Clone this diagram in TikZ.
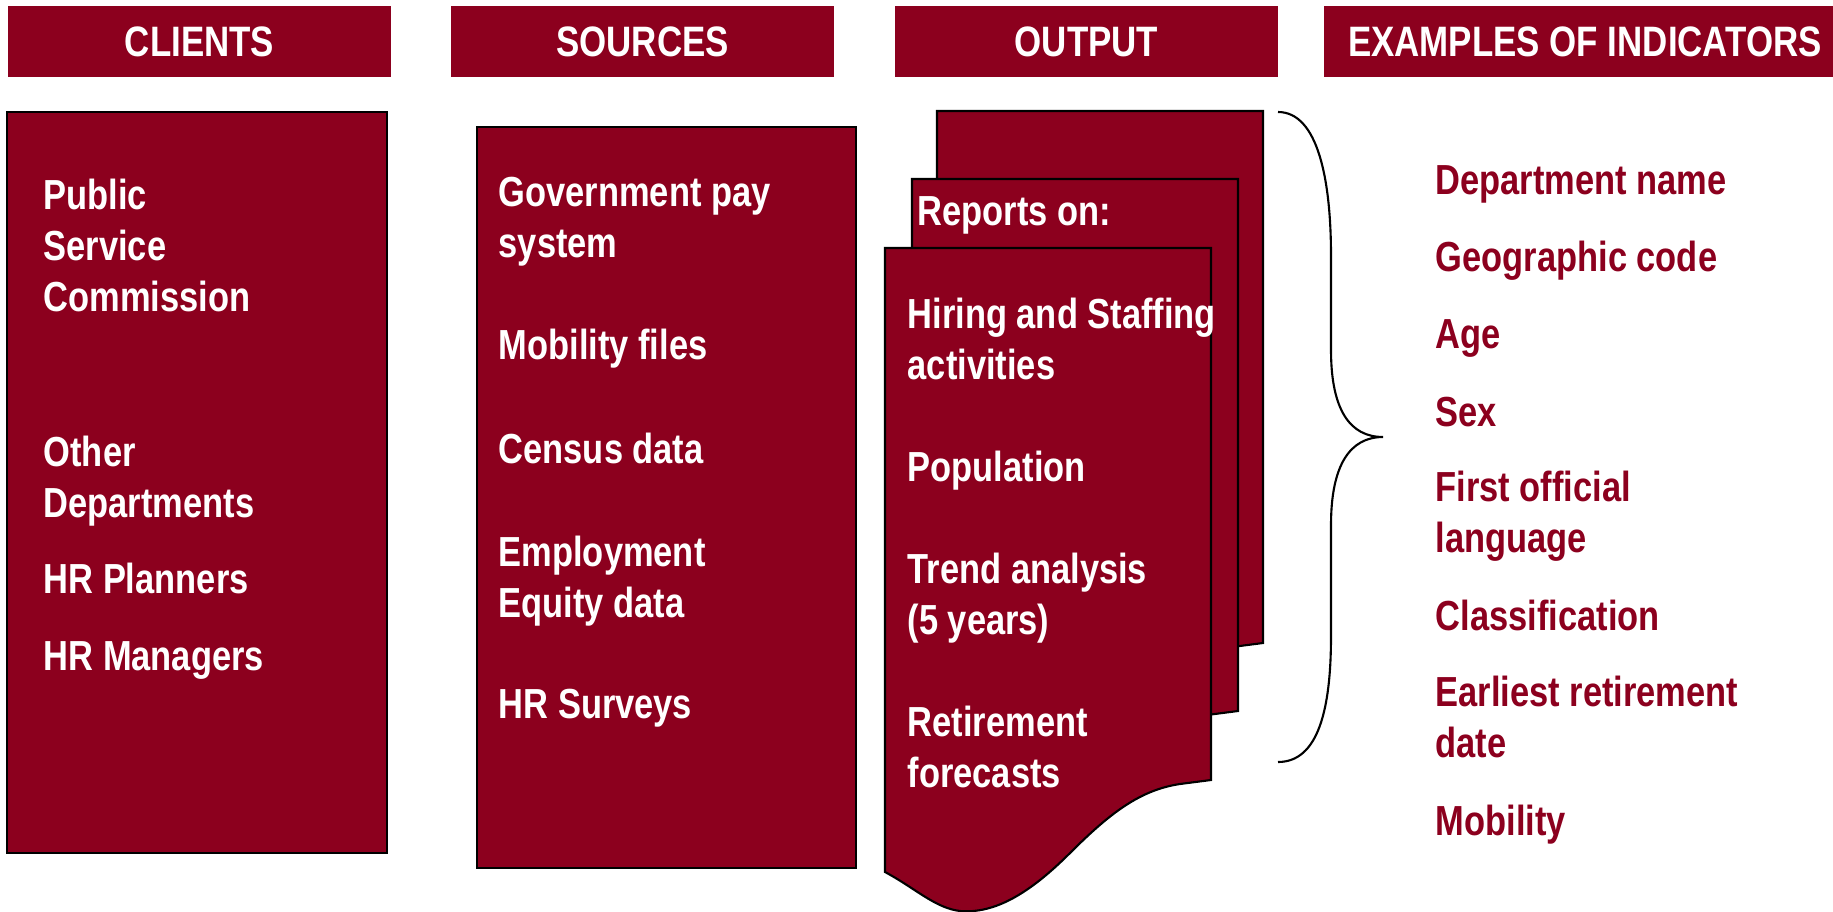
\documentclass[tikz,border=0pt]{standalone}
\usepackage{fontspec}
\setmainfont{Liberation Sans}
\newfontfamily\narrowsf[FakeStretch=0.82]{Liberation Sans}
\definecolor{wine}{RGB}{140,0,30}

\tikzset{
  headbar/.style={fill=wine, text=white, minimum width=3.83cm, minimum height=0.71cm,
    inner sep=0pt, font=\narrowsf\bfseries\fontsize{12.1pt}{14pt}\selectfont},
  panel/.style={fill=wine, draw=black, line width=0.6pt},
  item/.style={anchor=base west, align=left, inner sep=0pt, text=white,
    font=\narrowsf\bfseries\fontsize{11.95pt}{14.5pt}\selectfont},
  indicator/.style={item, text=wine},
}

\begin{document}
\begin{tikzpicture}[x=0.01cm, y=-0.01cm]
\useasboundingbox (0,0) rectangle (1833,912);

% column headings
\node[headbar] (hclients) at (199.5,41.5) {CLIENTS};
\node[headbar] (hsources) at (642.5,41.5) {SOURCES};
\node[headbar] (houtput) at (1086.5,41.5) {OUTPUT};
\node[headbar, minimum width=5.22cm] (hindic) at (1585,41.5) {EXAMPLES OF INDICATORS};

% clients and sources (node base = last line)
\draw[panel] (7,112) rectangle (387,853);
\draw[panel] (477,127) rectangle (856,868);

\node[item] (pubserv) at (43,311) {Public\\Service\\Commission};
\node[item] (otherdep) at (43,517) {Other\\Departments};
\node[item] (hrplan) at (43,593) {HR Planners};
\node[item] (hrman) at (43,670) {HR Managers};

\node[item] (paysys) at (498,257) {Government pay\\system};
\node[item] (mobfiles) at (498,359) {Mobility files};
\node[item] (census) at (498,463) {Census data};
\node[item] (eequity) at (498,617) {Employment\\Equity data};
\node[item] (hrsurv) at (498,718) {HR Surveys};

% stacked reports, back to front
\foreach \dx/\dy in {937/111, 912/179, 885/248}
  \draw[panel, shift={(\dx,\dy)}] (0,0) -- (326,0) -- (326,532)
    -- (295,536) .. controls (255,542) and (225,565) .. (185,605)
    .. controls (145,645) and (110,666) .. (75,663)
    .. controls (50,660) and (30,640) .. (0,624) -- cycle;

\node[item] (reports) at (917,225) {Reports on:};
\node[item] (hiring) at (907,379) {Hiring and Staffing\\activities};
\node[item] (popul) at (907,481) {Population};
\node[item] (trend) at (907,634) {Trend analysis\\(5 years)};
\node[item] (retire) at (907,787) {Retirement\\forecasts};

% brace
\coordinate (bracetop) at (1278,112);
\coordinate (bracetip) at (1383,437);
\coordinate (bracebot) at (1278,762);
\draw[line width=0.6pt] (bracetop) .. controls (1318,112) and (1331,180) .. (1331,256)
  -- (1331,350) .. controls (1331,410) and (1350,437) .. (bracetip)
  .. controls (1350,437) and (1331,465) .. (1331,525)
  -- (1331,636) .. controls (1331,710) and (1318,762) .. (bracebot);

% indicators
\node[indicator] (deptname) at (1435,194) {Department name};
\node[indicator] (geocode) at (1435,271) {Geographic code};
\node[indicator] (age) at (1435,348) {Age};
\node[indicator] (sex) at (1435,426) {Sex};
\node[indicator] (firstlang) at (1435,552) {First official\\language};
\node[indicator] (classif) at (1435,630) {Classification};
\node[indicator] (retdate) at (1435,757) {Earliest retirement\\date};
\node[indicator] (mobility) at (1435,835) {Mobility};
\end{tikzpicture}
\end{document}
